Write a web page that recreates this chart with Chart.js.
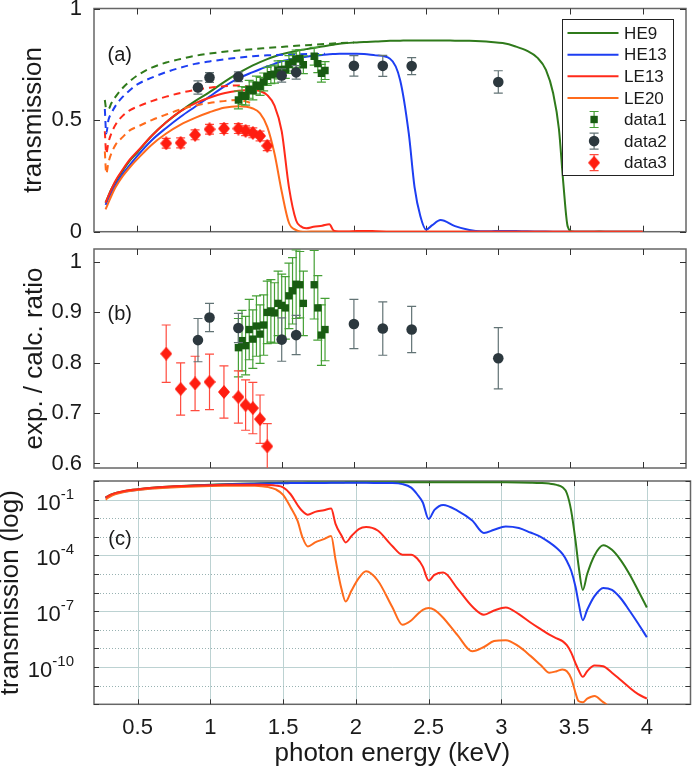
<!DOCTYPE html>
<html>
<head>
<meta charset="utf-8">
<script src="https://cdn.jsdelivr.net/npm/chart.js@4.4.1/dist/chart.umd.min.js"></script>
<style>
  html, body { margin: 0; padding: 0; background: #fff; }
  #wrap { position: relative; width: 692px; height: 773px; overflow: hidden; }
  canvas { position: absolute; left: 0; }
  #cA { top: 0; }
  #cB { top: 240px; }
  #cC { top: 474px; background: #fff; }
</style>
</head>
<body>
<div id="wrap">
  <canvas id="cA" data-panel="a" width="692" height="240"></canvas>
  <canvas id="cB" data-panel="b" width="692" height="234"></canvas>
  <canvas id="cC" data-panel="c" width="692" height="299"></canvas>
</div>
<script>
'use strict';

// ── Data ─────────────────────────────────────────────────────────────────────
// calculated transmission, sampled along photon energy (keV)
const energy = [0.28, 0.29, 0.30, 0.32, 0.35, 0.40, 0.45, 0.50, 0.60, 0.70,
  0.80, 0.90, 1.00, 1.10, 1.20, 1.30, 1.35, 1.40, 1.45, 1.50,
  1.55, 1.60, 1.63, 1.67, 1.72, 1.78, 1.83, 1.86, 1.90, 1.93,
  1.97, 2.02, 2.07, 2.15, 2.25, 2.32, 2.38, 2.42, 2.46, 2.50,
  2.54, 2.60, 2.70, 2.80, 2.88, 2.95, 3.03, 3.12, 3.20, 3.27,
  3.33, 3.38, 3.42, 3.45, 3.48, 3.51, 3.53, 3.56, 3.59, 3.64,
  3.70, 3.76, 3.82, 3.88, 3.94, 4.00];

const he9 = [0.13, 0.145, 0.16, 0.19, 0.225, 0.275, 0.32, 0.355, 0.43, 0.49,
  0.54, 0.585, 0.625, 0.67, 0.71, 0.745, 0.76, 0.773, 0.785, 0.795,
  0.803, 0.81, 0.814, 0.818, 0.823, 0.83, 0.835, 0.838, 0.842, 0.844,
  0.846, 0.848, 0.85, 0.852, 0.855, 0.856, 0.857, 0.857, 0.857, 0.857,
  0.857, 0.857, 0.856, 0.855, 0.853, 0.85, 0.845, 0.83, 0.81, 0.78,
  0.725, 0.62, 0.46, 0.22, 0.025, 6e-4, 3e-5, 1.4e-6, 1e-5, 1e-4,
  3.5e-4, 2e-4, 5.6e-5, 1e-5, 1.3e-6, 1.6e-7];

const he13 = [0.12, 0.135, 0.15, 0.175, 0.21, 0.26, 0.30, 0.34, 0.41, 0.465,
  0.515, 0.56, 0.605, 0.65, 0.687, 0.715, 0.728, 0.74, 0.752, 0.763,
  0.77, 0.777, 0.78, 0.784, 0.788, 0.792, 0.795, 0.796, 0.797, 0.797,
  0.797, 0.797, 0.796, 0.79, 0.775, 0.68, 0.44, 0.20, 0.07, 0.009,
  0.028, 0.052, 0.025, 0.0075, 1.6e-3, 2.4e-3, 3.6e-3, 3e-3, 1.7e-3, 1.0e-3,
  5e-4, 2.5e-4, 1.2e-4, 5e-5, 1.5e-5, 2e-6, 3e-7, 3.3e-8, 1.2e-7, 6.5e-7,
  1.8e-6, 1.4e-6, 5e-7, 1.1e-7, 2.2e-8, 4e-9];

const le13 = [0.13, 0.145, 0.16, 0.19, 0.23, 0.28, 0.325, 0.36, 0.43, 0.49,
  0.54, 0.575, 0.60, 0.62, 0.632, 0.635, 0.63, 0.612, 0.565, 0.45,
  0.20, 0.05, 0.025, 0.0155, 0.022, 0.027, 0.033, 5e-3, 1.2e-3, 5e-4,
  1.1e-3, 2.6e-3, 3.4e-3, 2.2e-3, 3.2e-4, 1.1e-4, 1.1e-4, 7e-5, 2.5e-5, 4.5e-6,
  9e-6, 1.2e-5, 1.6e-6, 1.8e-7, 6.5e-8, 1.1e-7, 1.6e-7, 7e-8, 2.5e-8, 1.1e-8,
  5.5e-9, 3.5e-9, 2.5e-9, 1.5e-9, 6e-10, 1.6e-10, 7e-11, 3e-11, 6e-11, 1.2e-10,
  1.1e-10, 5e-11, 2e-11, 8e-12, 3.5e-12, 2e-12];

const le20 = [0.10, 0.115, 0.13, 0.16, 0.20, 0.25, 0.29, 0.325, 0.39, 0.44,
  0.48, 0.51, 0.535, 0.555, 0.562, 0.552, 0.53, 0.47, 0.35, 0.18,
  0.04, 7e-3, 1.1e-3, 3e-4, 5e-4, 7.5e-4, 1.1e-3, 6e-5, 1.7e-6, 3.3e-7,
  1.3e-6, 6e-6, 1.4e-5, 4.5e-6, 1.7e-7, 1.9e-8, 3.2e-8, 6.5e-8, 1.2e-7, 1.5e-7,
  1.2e-7, 4.5e-8, 5e-9, 7e-10, 1.2e-9, 2.5e-9, 2.8e-9, 1.3e-9, 4e-10, 1.3e-10,
  5e-11, 6e-11, 7.5e-11, 6e-11, 2.5e-11, 4e-12, 1.5e-12, 1.3e-12, 2e-12, 2.8e-12,
  1.3e-12, 6e-13, 2.5e-13, 1e-13, 5e-14, 3e-14];

// dashed curves of panel (a), until they join the solid ones
const dashEnergy = [0.275, 0.285, 0.30, 0.32, 0.35, 0.40, 0.45, 0.50, 0.60, 0.70,
  0.80, 0.90, 1.00, 1.10, 1.20, 1.30, 1.40, 1.50, 1.60, 1.70, 1.80, 1.90, 2.00];
const he9Dash  = [0.59, 0.55, 0.55, 0.575, 0.605, 0.645, 0.675, 0.70, 0.735, 0.758,
  0.774, 0.788, 0.798, 0.806, 0.812, 0.818, 0.823, 0.828, 0.833, 0.837, 0.841, 0.845, 0.848];
const he13Dash = [0.55, 0.44, 0.50, 0.53, 0.565, 0.605, 0.635, 0.66, 0.69, 0.715,
  0.735, 0.752, 0.763, 0.772, 0.78, 0.786, 0.79, 0.793, 0.795, 0.796, 0.797, null, null];
const le13Dash = [0.45, 0.35, 0.40, 0.44, 0.48, 0.52, 0.545, 0.56, 0.585, 0.605,
  0.622, 0.635, 0.645, 0.652, 0.655, 0.645, null, null, null, null, null, null, null];
const le20Dash = [0.36, 0.26, 0.31, 0.35, 0.39, 0.425, 0.455, 0.47, 0.50, 0.525,
  0.548, 0.565, 0.577, 0.585, 0.59, 0.575, null, null, null, null, null, null, null];

// measurements
const data1Energy   = [1.20, 1.225, 1.25, 1.275, 1.30, 1.325, 1.35, 1.375, 1.40, 1.425, 1.45, 1.475,
  1.50, 1.525, 1.55, 1.575, 1.60, 1.625, 1.65, 1.725, 1.75, 1.775, 1.80];
const data1Trans    = [0.590, 0.610, 0.607, 0.638, 0.631, 0.657, 0.651, 0.671, 0.696, 0.703, 0.706, 0.725,
  0.727, 0.727, 0.749, 0.760, 0.774, 0.776, 0.748, 0.786, 0.753, 0.710, 0.722];
const data1TransErr = [0.04, 0.04, 0.04, 0.04, 0.04, 0.04, 0.04, 0.04, 0.04, 0.04, 0.04, 0.04,
  0.04, 0.04, 0.04, 0.04, 0.04, 0.04, 0.04, 0.04, 0.04, 0.04, 0.04];
const data1Ratio    = [0.830, 0.844, 0.834, 0.866, 0.847, 0.873, 0.857, 0.875, 0.900, 0.903, 0.899, 0.918,
  0.914, 0.909, 0.933, 0.943, 0.956, 0.955, 0.918, 0.955, 0.909, 0.855, 0.866];
const data1RatioErr = [0.058, 0.060, 0.058, 0.060, 0.058, 0.060, 0.058, 0.060, 0.062, 0.062, 0.060, 0.064,
  0.062, 0.062, 0.065, 0.066, 0.068, 0.066, 0.064, 0.068, 0.064, 0.060, 0.062];

const data2Energy   = [0.92, 1.0, 1.2, 1.5, 1.6, 2.0, 2.2, 2.4, 3.0];
const data2Trans    = [0.646, 0.691, 0.694, 0.700, 0.714, 0.743, 0.743, 0.742, 0.671];
const data2TransErr = [0.030, 0.022, 0.022, 0.030, 0.030, 0.046, 0.047, 0.038, 0.050];
const data2Ratio    = [0.845, 0.890, 0.869, 0.846, 0.855, 0.877, 0.868, 0.866, 0.809];
const data2RatioErr = [0.043, 0.028, 0.029, 0.043, 0.039, 0.049, 0.053, 0.046, 0.061];

const data3Energy   = [0.70, 0.80, 0.90, 1.00, 1.10, 1.20, 1.25, 1.30, 1.35, 1.40];
const data3Trans    = [0.396, 0.398, 0.434, 0.459, 0.462, 0.462, 0.452, 0.443, 0.429, 0.385];
const data3TransErr = [0.022, 0.022, 0.022, 0.022, 0.022, 0.022, 0.022, 0.022, 0.022, 0.022];
const data3Ratio    = [0.818, 0.748, 0.759, 0.762, 0.742, 0.732, 0.716, 0.710, 0.688, 0.634];
const data3RatioErr = [0.057, 0.052, 0.054, 0.055, 0.052, 0.052, 0.050, 0.051, 0.048, 0.045];

// ticks
const xTicks      = [0.5, 1, 1.5, 2, 2.5, 3, 3.5, 4];
const transTicks  = [0, 0.5, 1];
const ratioTicks  = [0.6, 0.7, 0.8, 0.9, 1];
const logDecades  = [0, -1, -2, -3, -4, -5, -6, -7, -8, -9, -10, -11, -12];
const logLabelled = [-1, -4, -7, -10];

// ── Style ────────────────────────────────────────────────────────────────────
const FONT = '"Liberation Sans", Arial, Helvetica, sans-serif';
const COL = {
  he9: '#2f7a1b', he13: '#1d3ef2', le13: '#ff2a1a', le20: '#ff6b1c',
  d1: '#195c12', d1Err: '#45a035',
  d2: '#2c383e', d2Err: '#627375',
  d3: '#ff1d10', d3Err: '#ff4b3e',
};

Chart.defaults.font.family = FONT;
Chart.defaults.color = '#1a1a1a';

// taller-than-wide diamond marker
const diamond = document.createElement('canvas');
diamond.width = 12; diamond.height = 14;
(() => {
  const g = diamond.getContext('2d');
  g.fillStyle = COL.d3;
  g.beginPath(); g.moveTo(6, 0); g.lineTo(12, 7); g.lineTo(6, 14); g.lineTo(0, 7); g.closePath(); g.fill();
})();

const pts = (xs, ys) => xs.map((x, i) => ({ x, y: ys[i] }));

function curve(label, xs, ys, color, order, dashed = false) {
  return {
    type: 'line', label, data: pts(xs, ys), borderColor: color, backgroundColor: color,
    borderWidth: 2, borderDash: dashed ? [7, 5] : [], pointRadius: 0,
    cubicInterpolationMode: 'monotone', fill: false, order,
  };
}

function markers(label, xs, ys, errs, style, color, errColor, radius, order) {
  return {
    type: 'scatter', label, data: pts(xs, ys), errors: errs, errorColor: errColor,
    pointStyle: style, pointRadius: radius, backgroundColor: color, borderColor: color,
    borderWidth: 0, order,
  };
}

// ── Plugins ──────────────────────────────────────────────────────────────────
const panels = {
  a: { yTicks: transTicks, tag: '(a)', tagAt: [0.378, 0.79] },
  b: { yTicks: ratioTicks, tag: '(b)', tagAt: [0.378, 0.895] },
  c: { yTicks: logDecades.map(k => 10 ** k), tag: '(c)', tagAt: [0.378, 7e-4], log: true },
};

const frame = {
  id: 'frame',
  beforeDatasetsDraw(chart) {
    const p = panels[chart.canvas.dataset.panel];
    const { ctx, chartArea: a, scales: { x, y } } = chart;
    ctx.save();
    if (p.log) {
      ctx.lineWidth = 1;
      ctx.strokeStyle = '#bcd2d2';
      xTicks.forEach(v => {
        const px = Math.round(x.getPixelForValue(v)) + 0.5;
        ctx.beginPath(); ctx.moveTo(px, a.top); ctx.lineTo(px, a.bottom); ctx.stroke();
      });
      logDecades.slice(1, -1).forEach(k => {
        const py = Math.round(y.getPixelForValue(10 ** k)) + 0.5;
        const major = logLabelled.includes(k);
        ctx.setLineDash(major ? [] : [1, 2]);
        ctx.strokeStyle = major ? '#bcd2d2' : '#98b2b2';
        ctx.beginPath(); ctx.moveTo(a.left, py); ctx.lineTo(a.right, py); ctx.stroke();
      });
      ctx.setLineDash([]);
    }
    // box
    ctx.strokeStyle = '#666';
    ctx.lineWidth = 1.5;
    ctx.strokeRect(a.left, a.top, a.right - a.left, a.bottom - a.top);
    // inward ticks on all four sides
    const L = p.log ? 5 : 6;
    ctx.strokeStyle = '#333';
    ctx.lineWidth = 1;
    ctx.beginPath();
    xTicks.forEach(v => {
      const px = Math.round(x.getPixelForValue(v)) + 0.5;
      ctx.moveTo(px, a.bottom); ctx.lineTo(px, a.bottom - L);
      ctx.moveTo(px, a.top);    ctx.lineTo(px, a.top + L);
    });
    p.yTicks.forEach(v => {
      const py = Math.round(y.getPixelForValue(v)) + 0.5;
      ctx.moveTo(a.left, py);  ctx.lineTo(a.left + L, py);
      ctx.moveTo(a.right, py); ctx.lineTo(a.right - L, py);
    });
    ctx.stroke();
    // panel tag
    ctx.fillStyle = '#1a1a1a';
    ctx.font = '20px ' + FONT;
    ctx.textAlign = 'center';
    ctx.textBaseline = 'middle';
    ctx.fillText(p.tag, x.getPixelForValue(p.tagAt[0]), y.getPixelForValue(p.tagAt[1]));
    if (p.log) {
      // x tick labels under the bottom panel
      ctx.font = '22px ' + FONT;
      xTicks.forEach(v => ctx.fillText(String(v), x.getPixelForValue(v), a.bottom + 23.5));
      // 10^k labels of the log axis
      ctx.textBaseline = 'alphabetic';
      const right = a.left - 20;
      logLabelled.forEach(k => {
        const py = y.getPixelForValue(10 ** k);
        const exp = '-' + Math.abs(k);
        ctx.font = '15px ' + FONT;
        const ew = ctx.measureText(exp).width;
        ctx.textAlign = 'left';
        ctx.fillText(exp, right - ew, py - 1);
        ctx.font = '22px ' + FONT;
        ctx.textAlign = 'right';
        ctx.fillText('10', right - ew, py + 10);
      });
    }
    ctx.restore();
  },
};

const errorBars = {
  id: 'errorBars',
  beforeDatasetDraw(chart, args) {
    const ds = chart.data.datasets[args.index];
    if (!ds.errors) return;
    const { ctx, chartArea: a } = chart;
    const y = chart.scales[args.meta.yAxisID];
    ctx.save();
    ctx.beginPath();
    ctx.rect(a.left, a.top, a.right - a.left, a.bottom - a.top);
    ctx.clip();
    ctx.strokeStyle = ds.errorColor;
    ctx.lineWidth = 1.2;
    ctx.beginPath();
    args.meta.data.forEach((pt, i) => {
      const v = ds.data[i].y, e = ds.errors[i];
      const top = y.getPixelForValue(v + e), bot = y.getPixelForValue(v - e);
      ctx.moveTo(pt.x, top); ctx.lineTo(pt.x, bot);
      ctx.moveTo(pt.x - 4.5, top); ctx.lineTo(pt.x + 4.5, top);
      ctx.moveTo(pt.x - 4.5, bot); ctx.lineTo(pt.x + 4.5, bot);
    });
    ctx.stroke();
    ctx.restore();
  },
};

const legendOrder = ['HE9', 'HE13', 'LE13', 'LE20', 'data1', 'data2', 'data3'];

const legendBox = {
  id: 'legendBox',
  afterDraw(chart) {
    const { ctx, chartArea: a } = chart;
    const left = Math.round(a.right - 124) + 0.5, top = Math.round(a.top + 10) + 0.5;
    const w = 111, h = 156;
    ctx.save();
    ctx.fillStyle = '#fff';
    ctx.fillRect(left, top, w, h);
    ctx.strokeStyle = '#222';
    ctx.lineWidth = 1;
    ctx.strokeRect(left, top, w, h);
    ctx.font = '17px ' + FONT;
    ctx.textBaseline = 'middle';
    ctx.textAlign = 'left';
    legendOrder.forEach((name, i) => {
      const ds = chart.data.datasets.find(d => d.label === name);
      const cy = top + 13.6 + i * 21.6;
      const mx = left + 31.6;
      if (ds.type === 'line') {
        ctx.strokeStyle = ds.borderColor;
        ctx.lineWidth = 2;
        ctx.beginPath(); ctx.moveTo(left + 5, cy); ctx.lineTo(left + 56, cy); ctx.stroke();
      } else {
        ctx.strokeStyle = ds.errorColor;
        ctx.lineWidth = 1.2;
        ctx.beginPath();
        ctx.moveTo(mx, cy - 8); ctx.lineTo(mx, cy + 8);
        ctx.moveTo(mx - 4.5, cy - 8); ctx.lineTo(mx + 4.5, cy - 8);
        ctx.moveTo(mx - 4.5, cy + 8); ctx.lineTo(mx + 4.5, cy + 8);
        ctx.stroke();
        ctx.fillStyle = ds.backgroundColor;
        if (ds.pointStyle === 'circle') {
          ctx.beginPath(); ctx.arc(mx, cy, ds.pointRadius, 0, Math.PI * 2); ctx.fill();
        } else if (ds.pointStyle === 'rect') {
          const s = ds.pointRadius * Math.SQRT1_2;
          ctx.fillRect(mx - s, cy - s, 2 * s, 2 * s);
        } else {
          ctx.drawImage(ds.pointStyle, mx - 6, cy - 7);
        }
      }
      ctx.fillStyle = '#1a1a1a';
      ctx.fillText(name, left + 61.6, cy + 1);
    });
    ctx.restore();
  },
};

// ── Scales ───────────────────────────────────────────────────────────────────
// label overflow must not shrink the plot box, so the scale paddings are cleared
function noPad(s) {
  s.paddingTop = s.paddingBottom = s.paddingLeft = s.paddingRight = 0;
}

function xScale(showTitle) {
  return {
    type: 'linear', min: 0.2, max: 4.3,
    afterBuildTicks: s => { s.ticks = xTicks.map(value => ({ value })); },
    afterFit: s => { s.height = showTitle ? 68.7 : 0; noPad(s); },
    grid: { display: false, drawTicks: false },
    border: { display: false },
    ticks: { display: false },
    title: { display: showTitle, text: 'photon energy (keV)', font: { size: 26 }, padding: { top: 0, bottom: 4 } },
  };
}

function yScale(type, min, max, ticks, title, titlePad, showTicks) {
  return {
    type, min, max,
    afterBuildTicks: s => { s.ticks = ticks.map(value => ({ value })); },
    afterFit: s => { s.width = 94; noPad(s); },
    grid: { display: false, drawTicks: false },
    border: { display: false },
    ticks: { display: showTicks, font: { size: 22 }, padding: 12, callback: v => String(v) },
    title: { display: true, text: title, font: { size: 26 }, padding: { top: titlePad, bottom: 0 } },
  };
}

function baseOptions(padding, x, y) {
  return {
    responsive: false, animation: false, devicePixelRatio: 1, events: [],
    layout: { padding },
    plugins: { legend: { display: false }, tooltip: { enabled: false } },
    scales: { x, y },
  };
}

// ── Panel (a): transmission ──────────────────────────────────────────────────
new Chart(document.getElementById('cA'), {
  type: 'line',
  data: {
    datasets: [
      markers('data2', data2Energy, data2Trans, data2TransErr, 'circle', COL.d2, COL.d2Err, 5.3, 0),
      markers('data1', data1Energy, data1Trans, data1TransErr, 'rect', COL.d1, COL.d1Err, 5.2, 1),
      markers('data3', data3Energy, data3Trans, data3TransErr, diamond, COL.d3, COL.d3Err, 6, 0),
      curve('HE9 dashed', dashEnergy, he9Dash, COL.he9, 2, true),
      curve('HE13 dashed', dashEnergy, he13Dash, COL.he13, 2, true),
      curve('LE13 dashed', dashEnergy, le13Dash, COL.le13, 2, true),
      curve('LE20 dashed', dashEnergy, le20Dash, COL.le20, 2, true),
      curve('LE13', energy, le13, COL.le13, 3),
      curve('LE20', energy, le20, COL.le20, 4),
      curve('HE13', energy, he13, COL.he13, 5),
      curve('HE9', energy, he9, COL.he9, 6),
    ],
  },
  options: baseOptions({ top: 8.5, right: 1.5, bottom: 8.3, left: 0 },
    xScale(false), yScale('linear', 0, 1, transTicks, 'transmission', 18.4, true)),
  plugins: [frame, errorBars, legendBox],
});

// ── Panel (b): ratio ─────────────────────────────────────────────────────────
new Chart(document.getElementById('cB'), {
  type: 'line',
  data: {
    datasets: [
      markers('data2', data2Energy, data2Ratio, data2RatioErr, 'circle', COL.d2, COL.d2Err, 5.3, 0),
      markers('data1', data1Energy, data1Ratio, data1RatioErr, 'rect', COL.d1, COL.d1Err, 5.2, 1),
      markers('data3', data3Energy, data3Ratio, data3RatioErr, diamond, COL.d3, COL.d3Err, 6, 0),
    ],
  },
  options: baseOptions({ top: 9, right: 1.5, bottom: 2, left: 0 },
    xScale(false), yScale('linear', 0.591, 1.026, ratioTicks, 'exp. / calc. ratio', 19.4, true)),
  plugins: [frame, errorBars],
});

// ── Panel (c): log transmission ──────────────────────────────────────────────
new Chart(document.getElementById('cC'), {
  type: 'line',
  data: {
    datasets: [
      curve('LE13', energy, le13, COL.le13, 1),
      curve('LE20', energy, le20, COL.le20, 2),
      curve('HE13', energy, he13, COL.he13, 3),
      curve('HE9', energy, he9, COL.he9, 4),
    ],
  },
  options: baseOptions({ top: 7, right: 1.5, bottom: 0, left: 0 },
    xScale(true), yScale('logarithmic', 1e-12, 1, logDecades.map(k => 10 ** k), 'transmission (log)', -4.6, false)),
  plugins: [frame],
});
</script>
</body>
</html>
